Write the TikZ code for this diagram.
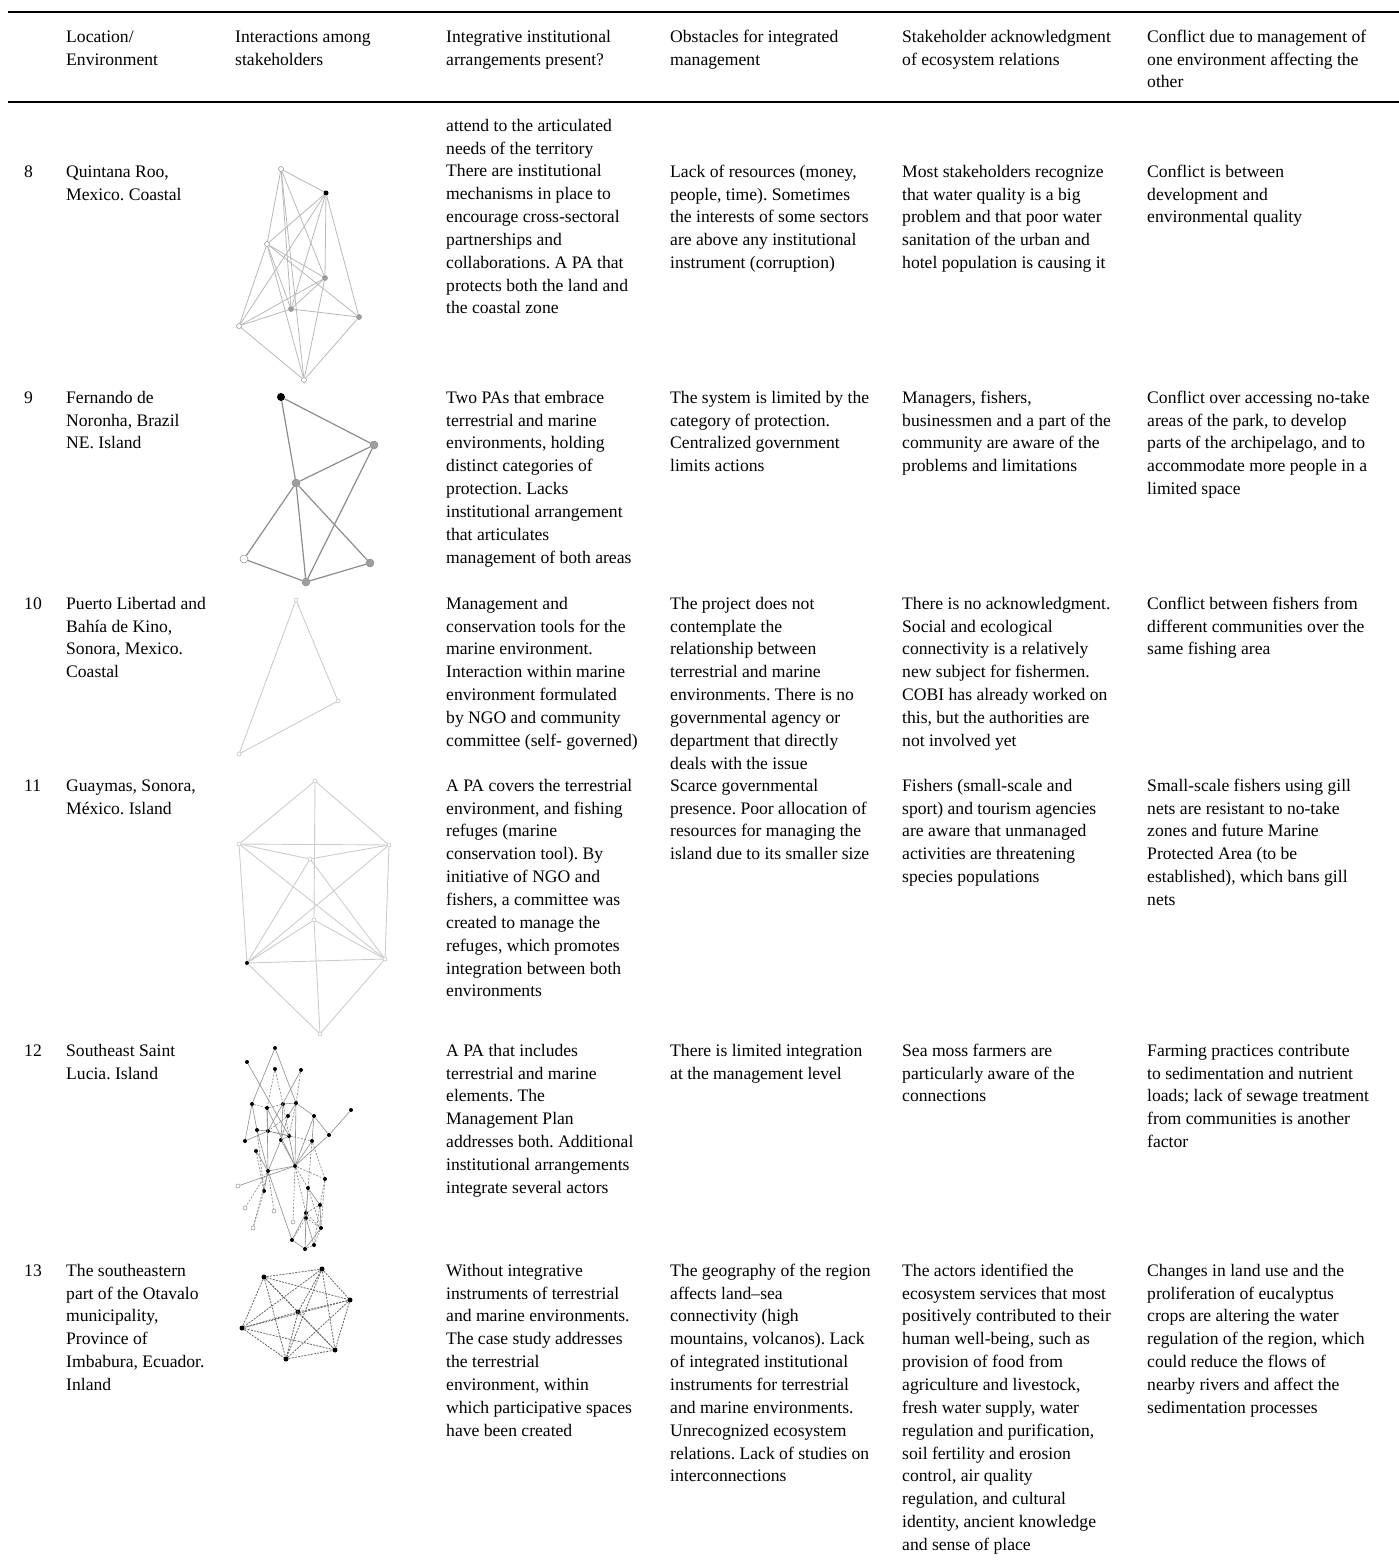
\documentclass[tikz,border=0pt]{standalone}
\usepackage{fontspec}
\setmainfont{Liberation Serif}
\frenchspacing

\definecolor{edgepale}{gray}{0.80}
\definecolor{edgelight}{gray}{0.72}
\definecolor{edgemid}{gray}{0.55}
\definecolor{edgedark}{gray}{0.40}
\definecolor{nodegray}{gray}{0.62}

\tikzset{
  celltext/.style={anchor=north west, inner sep=0pt, yshift=-2pt, align=left, font=\fontsize{17.6}{22.85}\selectfont},
  tablerule/.style={line width=2pt},
  vopen/.style={circle, draw=edgemid, fill=white, line width=0.5pt, inner sep=0pt, minimum size=5pt},
  vgray/.style={circle, draw=edgemid, fill=nodegray, line width=0.5pt, inner sep=0pt, minimum size=5pt},
  vblack/.style={circle, fill=black, inner sep=0pt, minimum size=5pt},
  vbig/.style={minimum size=8pt},
  vtiny/.style={minimum size=4pt},
  lightedge/.style={draw=edgelight, line width=0.8pt},
  paleedge/.style={draw=edgepale, line width=0.9pt},
  midedge/.style={draw=edgemid, line width=1.2pt},
  solidedge/.style={draw=edgemid, line width=0.6pt},
  dashedge/.style={draw=edgemid, line width=0.7pt, dash pattern=on 2pt off 1.5pt},
  dotedge/.style={draw=edgedark, line width=0.8pt, dash pattern=on 2pt off 1.2pt}
}

\begin{document}
\begin{tikzpicture}[x=1pt, y=-1pt]
        \useasboundingbox (0,0) rectangle (1399,1563);

        % rules
        \draw[tablerule] (8,12) -- (1399,12);
        \draw[tablerule] (8,102) -- (1399,102);

        % header
        \node[celltext] (head1) at (66,24) {\strut Location/\\Environment};
        \node[celltext] (head2) at (235,24) {\strut Interactions among\\stakeholders};
        \node[celltext] (head3) at (446,24) {\strut Integrative institutional\\arrangements present?};
        \node[celltext] (head4) at (670,24) {\strut Obstacles for integrated\\management};
        \node[celltext] (head5) at (902,24) {\strut Stakeholder acknowledgment\\of ecosystem relations};
        \node[celltext] (head6) at (1147,24) {\strut Conflict due to management of\\one environment affecting the\\other};

        % row 8
        \node[celltext] (num8) at (24,159) {\strut 8};
        \node[celltext] (loc8) at (66,159) {\strut Quintana Roo,\\Mexico. Coastal};
        \node[celltext] (inst8) at (446,113) {\strut attend to the articulated\\needs of the territory\\There are institutional\\mechanisms in place to\\encourage cross-sectoral\\partnerships and\\collaborations. A PA that\\protects both the land and\\the coastal zone};
        \node[celltext] (obst8) at (670,159) {\strut Lack of resources (money,\\people, time). Sometimes\\the interests of some sectors\\are above any institutional\\instrument (corruption)};
        \node[celltext] (ack8) at (902,159) {\strut Most stakeholders recognize\\that water quality is a big\\problem and that poor water\\sanitation of the urban and\\hotel population is causing it};
        \node[celltext] (conf8) at (1147,159) {\strut Conflict is between\\development and\\environmental quality};

        % row 9
        \node[celltext] (num9) at (24,385) {\strut 9};
        \node[celltext] (loc9) at (66,385) {\strut Fernando de\\Noronha, Brazil\\NE. Island};
        \node[celltext] (inst9) at (446,385) {\strut Two PAs that embrace\\terrestrial and marine\\environments, holding\\distinct categories of\\protection. Lacks\\institutional arrangement\\that articulates\\management of both areas};
        \node[celltext] (obst9) at (670,385) {\strut The system is limited by the\\category of protection.\\Centralized government\\limits actions};
        \node[celltext] (ack9) at (902,385) {\strut Managers, fishers,\\businessmen and a part of the\\community are aware of the\\problems and limitations};
        \node[celltext] (conf9) at (1147,385) {\strut Conflict over accessing no-take\\areas of the park, to develop\\parts of the archipelago, and to\\accommodate more people in a\\limited space};

        % row 10
        \node[celltext] (num10) at (24,591) {\strut 10};
        \node[celltext] (loc10) at (66,591) {\strut Puerto Libertad and\\Bahía de Kino,\\Sonora, Mexico.\\Coastal};
        \node[celltext] (inst10) at (446,591) {\strut Management and\\conservation tools for the\\marine environment.\\Interaction within marine\\environment formulated\\by NGO and community\\committee (self- governed)};
        \node[celltext] (obst10) at (670,591) {\strut The project does not\\contemplate the\\relationship between\\terrestrial and marine\\environments. There is no\\governmental agency or\\department that directly\\deals with the issue};
        \node[celltext] (ack10) at (902,591) {\strut There is no acknowledgment.\\Social and ecological\\connectivity is a relatively\\new subject for fishermen.\\COBI has already worked on\\this, but the authorities are\\not involved yet};
        \node[celltext] (conf10) at (1147,591) {\strut Conflict between fishers from\\different communities over the\\same fishing area};

        % row 11
        \node[celltext] (num11) at (24,773) {\strut 11};
        \node[celltext] (loc11) at (66,773) {\strut Guaymas, Sonora,\\México. Island};
        \node[celltext] (inst11) at (446,773) {\strut A PA covers the terrestrial\\environment, and fishing\\refuges (marine\\conservation tool). By\\initiative of NGO and\\fishers, a committee was\\created to manage the\\refuges, which promotes\\integration between both\\environments};
        \node[celltext] (obst11) at (670,773) {\strut Scarce governmental\\presence. Poor allocation of\\resources for managing the\\island due to its smaller size};
        \node[celltext] (ack11) at (902,773) {\strut Fishers (small-scale and\\sport) and tourism agencies\\are aware that unmanaged\\activities are threatening\\species populations};
        \node[celltext] (conf11) at (1147,773) {\strut Small-scale fishers using gill\\nets are resistant to no-take\\zones and future Marine\\Protected Area (to be\\established), which bans gill\\nets};

        % row 12
        \node[celltext] (num12) at (24,1038) {\strut 12};
        \node[celltext] (loc12) at (66,1038) {\strut Southeast Saint\\Lucia. Island};
        \node[celltext] (inst12) at (446,1038) {\strut A PA that includes\\terrestrial and marine\\elements. The\\Management Plan\\addresses both. Additional\\institutional arrangements\\integrate several actors};
        \node[celltext] (obst12) at (670,1038) {\strut There is limited integration\\at the management level};
        \node[celltext] (ack12) at (902,1038) {\strut Sea moss farmers are\\particularly aware of the\\connections};
        \node[celltext] (conf12) at (1147,1038) {\strut Farming practices contribute\\to sedimentation and nutrient\\loads; lack of sewage treatment\\from communities is another\\factor};

        % row 13
        \node[celltext] (num13) at (24,1258) {\strut 13};
        \node[celltext] (loc13) at (66,1258) {\strut The southeastern\\part of the Otavalo\\municipality,\\Province of\\Imbabura, Ecuador.\\Inland};
        \node[celltext] (inst13) at (446,1258) {\strut Without integrative\\instruments of terrestrial\\and marine environments.\\The case study addresses\\the terrestrial\\environment, within\\which participative spaces\\have been created};
        \node[celltext] (obst13) at (670,1258) {\strut The geography of the region\\affects land--sea\\connectivity (high\\mountains, volcanos). Lack\\of integrated institutional\\instruments for terrestrial\\and marine environments.\\Unrecognized ecosystem\\relations. Lack of studies on\\interconnections};
        \node[celltext] (ack13) at (902,1258) {\strut The actors identified the\\ecosystem services that most\\positively contributed to their\\human well-being, such as\\provision of food from\\agriculture and livestock,\\fresh water supply, water\\regulation and purification,\\soil fertility and erosion\\control, air quality\\regulation, and cultural\\identity, ancient knowledge\\and sense of place};
        \node[celltext] (conf13) at (1147,1258) {\strut Changes in land use and the\\proliferation of eucalyptus\\crops are altering the water\\regulation of the region, which\\could reduce the flows of\\nearby rivers and affect the\\sedimentation processes};

        % graph 8
        \node[vopen] (q1) at (281,169) {};
        \node[vblack] (q2) at (326,193) {};
        \node[vopen] (q3) at (267,244) {};
        \node[vgray] (q4) at (325,278) {};
        \node[vgray] (q5) at (291,309) {};
        \node[vgray] (q6) at (359,317) {};
        \node[vopen] (q7) at (239,326) {};
        \node[vopen] (q8) at (304,380) {};

        \draw[lightedge] (q1) -- (q2);
        \draw[lightedge] (q1) -- (q3);
        \draw[lightedge] (q1) -- (q4);
        \draw[lightedge] (q1) -- (q5);
        \draw[lightedge] (q1) -- (q8);
        \draw[lightedge] (q2) -- (q3);
        \draw[lightedge] (q2) -- (q4);
        \draw[lightedge] (q2) -- (q5);
        \draw[lightedge] (q2) -- (q6);
        \draw[lightedge] (q2) -- (q7);
        \draw[lightedge] (q3) -- (q4);
        \draw[lightedge] (q3) -- (q5);
        \draw[lightedge] (q3) -- (q6);
        \draw[lightedge] (q3) -- (q7);
        \draw[lightedge] (q3) -- (q8);
        \draw[lightedge] (q4) -- (q5);
        \draw[lightedge] (q4) -- (q7);
        \draw[lightedge] (q4) -- (q8);
        \draw[lightedge] (q5) -- (q6);
        \draw[lightedge] (q5) -- (q7);
        \draw[lightedge] (q6) -- (q8);
        \draw[lightedge] (q7) -- (q8);

        % graph 9
        \node[vblack, vbig] (f1) at (281,397) {};
        \node[vgray, vbig] (f2) at (374,445) {};
        \node[vgray, vbig] (f3) at (296,483) {};
        \node[vopen, vbig] (f4) at (244,559) {};
        \node[vgray, vbig] (f5) at (306,582) {};
        \node[vgray, vbig] (f6) at (370,563) {};

        \draw[midedge] (f1) -- (f2);
        \draw[midedge] (f1) -- (f3);
        \draw[midedge] (f2) -- (f3);
        \draw[midedge] (f2) -- (f5);
        \draw[midedge] (f3) -- (f4);
        \draw[midedge] (f3) -- (f5);
        \draw[midedge] (f3) -- (f6);
        \draw[midedge] (f4) -- (f5);
        \draw[midedge] (f5) -- (f6);

        % graph 10
        \node[vopen, vtiny, draw=edgelight] (p1) at (296,600) {};
        \node[vopen, vtiny, draw=edgelight] (p2) at (338,701) {};
        \node[vopen, vtiny, draw=edgelight] (p3) at (239,754) {};

        \draw[paleedge] (p1) -- (p2);
        \draw[paleedge] (p1) -- (p3);
        \draw[paleedge] (p2) -- (p3);

        % graph 11
        \node[vopen, vtiny, draw=edgelight] (g1) at (315,781) {};
        \node[vopen, vtiny, draw=edgelight] (g2) at (239,844) {};
        \node[vopen, vtiny, draw=edgelight] (g3) at (389,845) {};
        \node[vopen, vtiny, draw=edgelight] (g4) at (310,859) {};
        \node[vopen, vtiny, draw=edgelight] (g5) at (314,920) {};
        \node[vblack, vtiny] (g6) at (247,963) {};
        \node[vopen, vtiny, draw=edgelight] (g7) at (385,959) {};
        \node[vopen, vtiny, draw=edgelight] (g8) at (320,1034) {};

        \draw[paleedge] (g1) -- (g2);
        \draw[paleedge] (g1) -- (g3);
        \draw[paleedge] (g1) -- (g5);
        \draw[paleedge] (g2) -- (g3);
        \draw[paleedge] (g2) -- (g4);
        \draw[paleedge] (g4) -- (g3);
        \draw[paleedge] (g2) -- (g6);
        \draw[paleedge] (g2) -- (g7);
        \draw[paleedge] (g3) -- (g7);
        \draw[paleedge] (g3) -- (g6);
        \draw[paleedge] (g4) -- (g6);
        \draw[paleedge] (g4) -- (g7);
        \draw[paleedge] (g5) -- (g6);
        \draw[paleedge] (g5) -- (g7);
        \draw[paleedge] (g6) -- (g7);
        \draw[paleedge] (g6) -- (g8);
        \draw[paleedge] (g7) -- (g8);
        \draw[paleedge] (g5) -- (g8);

        % graph 12
        \node[vblack, vtiny] (l1) at (275,1048) {};
        \node[vblack, vtiny] (l2) at (247,1062) {};
        \node[vblack, vtiny] (l3) at (275,1069) {};
        \node[vblack, vtiny] (l4) at (301,1070) {};
        \node[vblack, vtiny] (l5) at (252,1104) {};
        \node[vblack, vtiny] (l6) at (267,1108) {};
        \node[vblack, vtiny] (l7) at (283,1104) {};
        \node[vblack, vtiny] (l8) at (296,1103) {};
        \node[vblack, vtiny] (l9) at (351,1110) {};
        \node[vblack, vtiny] (l10) at (314,1116) {};
        \node[vblack, vtiny] (l11) at (288,1116) {};
        \node[vblack, vtiny] (l12) at (257,1130) {};
        \node[vblack, vtiny] (l13) at (268,1131) {};
        \node[vblack, vtiny] (l14) at (289,1136) {};
        \node[vblack, vtiny] (l15) at (329,1135) {};
        \node[vblack, vtiny] (l16) at (245,1141) {};
        \node[vblack, vtiny] (l17) at (281,1140) {};
        \node[vblack, vtiny] (l18) at (312,1141) {};
        \node[vblack, vtiny] (l19) at (256,1151) {};
        \node[vblack, vtiny] (l20) at (295,1166) {};
        \node[vblack, vtiny] (l21) at (268,1171) {};
        \node[vblack, vtiny] (l22) at (325,1179) {};
        \node[vopen, vtiny] (l23) at (238,1186) {};
        \node[vblack, vtiny] (l24) at (264,1191) {};
        \node[vblack, vtiny] (l25) at (308,1188) {};
        \node[vblack, vtiny] (l26) at (320,1205) {};
        \node[vblack, vtiny] (l27) at (306,1213) {};
        \node[vopen, vtiny] (l28) at (245,1208) {};
        \node[vopen, vtiny] (l29) at (274,1211) {};
        \node[vopen, vtiny] (l30) at (293,1222) {};
        \node[vblack, vtiny] (l31) at (321,1228) {};
        \node[vopen, vtiny] (l32) at (253,1228) {};
        \node[vblack, vtiny] (l33) at (292,1240) {};
        \node[vblack, vtiny] (l34) at (314,1245) {};
        \node[vblack, vtiny] (l35) at (305,1249) {};
        \node[vblack, vtiny] (l36) at (306,1218) {};

        \draw[solidedge] (l1) -- (l5);
        \draw[solidedge] (l1) -- (l8);
        \draw[solidedge] (l2) -- (l14);
        \draw[dashedge] (l3) -- (l6);
        \draw[dashedge] (l3) -- (l7);
        \draw[solidedge] (l4) -- (l13);
        \draw[dashedge] (l4) -- (l8);
        \draw[dashedge] (l5) -- (l6);
        \draw[dashedge] (l6) -- (l7);
        \draw[solidedge] (l7) -- (l8);
        \draw[solidedge] (l5) -- (l12);
        \draw[solidedge] (l5) -- (l16);
        \draw[solidedge] (l6) -- (l13);
        \draw[solidedge] (l6) -- (l21);
        \draw[solidedge] (l6) -- (l20);
        \draw[solidedge] (l7) -- (l17);
        \draw[dashedge] (l7) -- (l14);
        \draw[solidedge] (l8) -- (l11);
        \draw[dashedge] (l8) -- (l14);
        \draw[solidedge] (l8) -- (l20);
        \draw[solidedge] (l9) -- (l15);
        \draw[solidedge] (l10) -- (l8);
        \draw[solidedge] (l10) -- (l15);
        \draw[solidedge] (l10) -- (l18);
        \draw[solidedge] (l10) -- (l20);
        \draw[dashedge] (l11) -- (l13);
        \draw[solidedge] (l11) -- (l17);
        \draw[solidedge] (l12) -- (l13);
        \draw[solidedge] (l12) -- (l21);
        \draw[dashedge] (l12) -- (l24);
        \draw[solidedge] (l13) -- (l14);
        \draw[dashedge] (l13) -- (l18);
        \draw[solidedge] (l14) -- (l17);
        \draw[solidedge] (l14) -- (l20);
        \draw[solidedge] (l15) -- (l20);
        \draw[solidedge] (l16) -- (l13);
        \draw[solidedge] (l17) -- (l21);
        \draw[solidedge] (l17) -- (l20);
        \draw[solidedge] (l18) -- (l20);
        \draw[dashedge] (l18) -- (l22);
        \draw[dashedge] (l18) -- (l25);
        \draw[solidedge] (l19) -- (l21);
        \draw[dashedge] (l19) -- (l24);
        \draw[solidedge] (l20) -- (l21);
        \draw[solidedge] (l20) -- (l23);
        \draw[dashedge] (l20) -- (l25);
        \draw[dashedge] (l20) -- (l27);
        \draw[dashedge] (l20) -- (l22);
        \draw[dashedge] (l20) -- (l30);
        \draw[solidedge] (l21) -- (l24);
        \draw[dashedge] (l21) -- (l28);
        \draw[dashedge] (l21) -- (l29);
        \draw[solidedge] (l21) -- (l33);
        \draw[dashedge] (l21) -- (l32);
        \draw[dashedge] (l22) -- (l26);
        \draw[dashedge] (l22) -- (l31);
        \draw[dashedge] (l24) -- (l32);
        \draw[solidedge] (l25) -- (l26);
        \draw[dashedge] (l25) -- (l27);
        \draw[dashedge] (l25) -- (l31);
        \draw[solidedge] (l25) -- (l36);
        \draw[dashedge] (l26) -- (l27);
        \draw[solidedge] (l26) -- (l31);
        \draw[dashedge] (l26) -- (l34);
        \draw[solidedge] (l27) -- (l33);
        \draw[dashedge] (l27) -- (l31);
        \draw[dashedge] (l27) -- (l35);
        \draw[solidedge] (l27) -- (l36);
        \draw[dashedge] (l31) -- (l34);
        \draw[solidedge] (l31) -- (l35);
        \draw[dashedge] (l31) -- (l36);
        \draw[solidedge] (l33) -- (l35);
        \draw[dashedge] (l34) -- (l35);
        \draw[dashedge] (l36) -- (l35);
        \draw[solidedge] (l36) -- (l34);
        \draw[dashedge] (l36) -- (l33);

        % graph 13
        \node[vblack] (o1) at (264,1277) {};
        \node[vblack] (o2) at (322,1269) {};
        \node[vblack] (o3) at (350,1300) {};
        \node[vblack] (o4) at (298,1312) {};
        \node[vblack] (o5) at (242,1328) {};
        \node[vblack] (o6) at (286,1359) {};
        \node[vblack] (o7) at (335,1350) {};

        \draw[dotedge] (o1) -- (o2);
        \draw[dotedge] (o1) -- (o3);
        \draw[dotedge] (o1) -- (o4);
        \draw[dotedge] (o1) -- (o5);
        \draw[dotedge] (o1) -- (o6);
        \draw[dotedge] (o1) -- (o7);
        \draw[dotedge] (o2) -- (o3);
        \draw[dotedge] (o2) -- (o4);
        \draw[dotedge] (o2) -- (o5);
        \draw[dotedge] (o2) -- (o6);
        \draw[dotedge] (o2) -- (o7);
        \draw[dotedge] (o3) -- (o4);
        \draw[dotedge] (o3) -- (o5);
        \draw[dotedge] (o3) -- (o6);
        \draw[dotedge] (o3) -- (o7);
        \draw[dotedge] (o4) -- (o5);
        \draw[dotedge] (o4) -- (o6);
        \draw[dotedge] (o4) -- (o7);
        \draw[dotedge] (o5) -- (o6);
        \draw[dotedge] (o5) -- (o7);
        \draw[dotedge] (o6) -- (o7);
    \end{tikzpicture}
\end{document}
